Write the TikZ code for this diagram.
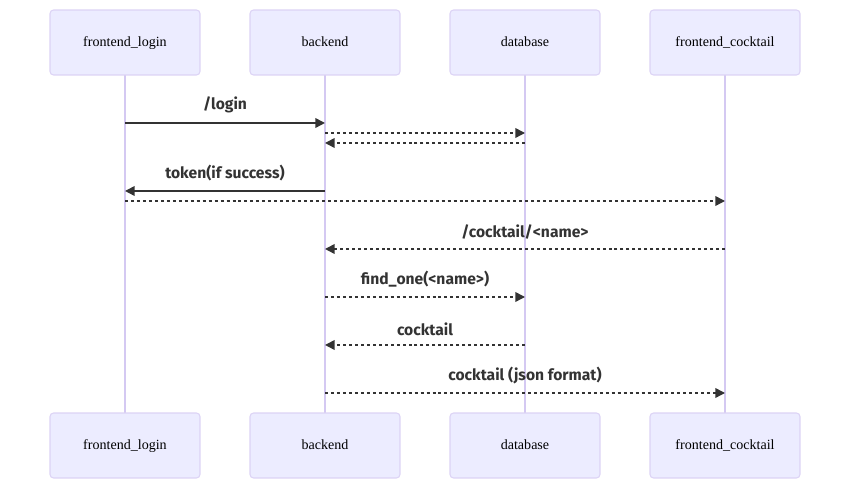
\documentclass[tikz,border=0pt]{standalone}
\usepackage{fontspec}
\usetikzlibrary{arrows.meta}
\newfontfamily\actorfont{Liberation Serif}
\newfontfamily\msgfont{Fira Sans}
\definecolor{actorfill}{HTML}{ECECFF}
\definecolor{actorline}{HTML}{DCD3F5}
\definecolor{lifeline}{HTML}{D4C9F2}
\definecolor{msgcol}{HTML}{333333}
\begin{document}
\begin{tikzpicture}[x=0.02cm,y=-0.02cm]
    \tikzstyle{actor}=[draw=actorline, fill=actorfill, rounded corners=2pt, line width=0.6pt, minimum width=3cm, minimum height=1.3cm, text height=1.5ex, text depth=0.4ex, font=\actorfont\fontsize{8}{9}\selectfont, text=black]
    \tikzstyle{life}=[draw=lifeline, line width=0.9pt]
    \tikzstyle{msg}=[draw=msgcol, line width=0.85pt, -{Triangle[length=5.5pt,width=5.5pt]}]
    \tikzstyle{reply}=[msg, dash pattern=on 1.7pt off 1.7pt]
    \tikzstyle{lbl}=[midway, above=4pt, inner sep=1pt, text=msgcol, font=\msgfont\bfseries\fontsize{8.9}{10}\selectfont]

    \useasboundingbox (0,0) rectangle (850,489);

    % lifelines first, boxes on top
    \coordinate (fltop) at (125,75);
    \coordinate (betop) at (325,75);
    \coordinate (dbtop) at (525,75);
    \coordinate (fctop) at (725,75);
    \coordinate (flbot) at (125,413);
    \coordinate (bebot) at (325,413);
    \coordinate (dbbot) at (525,413);
    \coordinate (fcbot) at (725,413);
    \draw[life] (fltop) -- (flbot);
    \draw[life] (betop) -- (bebot);
    \draw[life] (dbtop) -- (dbbot);
    \draw[life] (fctop) -- (fcbot);

    \node[actor] (fl) at (125,42.5) {frontend\_login};
    \node[actor] (be) at (325,42.5) {backend};
    \node[actor] (db) at (525,42.5) {database};
    \node[actor] (fc) at (725,42.5) {frontend\_cocktail};

    \node[actor] (fl2) at (125,445.5) {frontend\_login};
    \node[actor] (be2) at (325,445.5) {backend};
    \node[actor] (db2) at (525,445.5) {database};
    \node[actor] (fc2) at (725,445.5) {frontend\_cocktail};

    % message rows
    \coordinate (r1) at (0,123);
    \coordinate (r2) at (0,133);
    \coordinate (r3) at (0,143);
    \coordinate (r4) at (0,191);
    \coordinate (r5) at (0,201);
    \coordinate (r6) at (0,249);
    \coordinate (r7) at (0,297);
    \coordinate (r8) at (0,345);
    \coordinate (r9) at (0,393);

    \draw[msg] (fl |- r1) -- node[lbl] {/login} (be |- r1);
    \draw[reply] (be |- r2) -- (db |- r2);
    \draw[reply] (db |- r3) -- (be |- r3);
    \draw[msg] (be |- r4) -- node[lbl] {token(if success)} (fl |- r4);
    \draw[reply] (fl |- r5) -- (fc |- r5);
    \draw[reply] (fc |- r6) -- node[lbl] {/cocktail/<name>} (be |- r6);
    \draw[reply] (be |- r7) -- node[lbl] {find\_one(<name>)} (db |- r7);
    \draw[reply] (db |- r8) -- node[lbl] {cocktail} (be |- r8);
    \draw[reply] (be |- r9) -- node[lbl] {cocktail (json format)} (fc |- r9);
\end{tikzpicture}
\end{document}
